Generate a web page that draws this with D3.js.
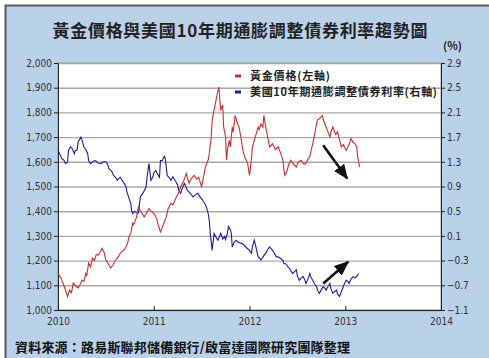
<!DOCTYPE html>
<html>
<head>
<meta charset="utf-8">
<script src="https://cdn.jsdelivr.net/npm/d3@7/dist/d3.min.js"></script>
<style>
  body { margin: 0; background: #fff; }
  svg { display: block; }
</style>
</head>
<body>
<svg id="chart" width="489" height="358"></svg>
<script>
const yearTicks = [2010, 2011, 2012, 2013, 2014]
const goldTicks = [1000, 1100, 1200, 1300, 1400, 1500, 1600, 1700, 1800, 1900, 2000]
const rateTicks = [-1.1, -0.7, -0.3, 0.1, 0.5, 0.9, 1.3, 1.7, 2.1, 2.5, 2.9]

// gold price, USD/oz (left axis) - [decimal year, value]
const goldSeries = [
  [2010.00, 1148], [2010.03, 1130], [2010.05, 1110], [2010.07, 1090], [2010.10, 1054],
  [2010.12, 1080], [2010.14, 1070], [2010.16, 1109], [2010.19, 1095], [2010.21, 1089],
  [2010.24, 1110], [2010.25, 1121], [2010.27, 1115], [2010.29, 1149], [2010.30, 1140],
  [2010.32, 1190], [2010.34, 1175], [2010.36, 1210], [2010.38, 1200], [2010.40, 1225],
  [2010.42, 1222], [2010.45, 1240], [2010.46, 1250], [2010.48, 1235], [2010.50, 1202],
  [2010.52, 1190], [2010.55, 1170], [2010.58, 1185], [2010.60, 1202], [2010.63, 1215],
  [2010.65, 1230], [2010.68, 1240], [2010.71, 1255], [2010.73, 1275], [2010.74, 1295],
  [2010.76, 1310], [2010.78, 1351], [2010.79, 1345], [2010.82, 1375], [2010.84, 1417],
  [2010.87, 1395], [2010.90, 1377], [2010.92, 1390], [2010.95, 1411], [2010.97, 1400],
  [2011.00, 1392], [2011.03, 1370], [2011.05, 1340], [2011.07, 1316], [2011.10, 1345],
  [2011.13, 1377], [2011.15, 1410], [2011.18, 1432], [2011.20, 1425], [2011.23, 1452],
  [2011.26, 1475], [2011.28, 1498], [2011.31, 1520], [2011.34, 1553], [2011.35, 1535],
  [2011.37, 1513], [2011.39, 1530], [2011.42, 1545], [2011.45, 1530], [2011.47, 1537],
  [2011.50, 1498], [2011.52, 1540], [2011.54, 1579], [2011.57, 1610], [2011.58, 1634],
  [2011.60, 1700], [2011.61, 1768], [2011.63, 1810], [2011.65, 1848], [2011.66, 1870],
  [2011.68, 1902], [2011.69, 1850], [2011.70, 1808], [2011.72, 1830], [2011.73, 1741],
  [2011.75, 1700], [2011.76, 1606], [2011.77, 1650], [2011.79, 1687], [2011.80, 1660],
  [2011.82, 1741], [2011.83, 1720], [2011.85, 1788], [2011.87, 1760], [2011.89, 1741],
  [2011.91, 1700], [2011.93, 1646], [2011.95, 1620], [2011.98, 1594], [2012.00, 1545],
  [2012.02, 1610], [2012.03, 1660], [2012.06, 1700], [2012.09, 1741], [2012.10, 1730],
  [2012.12, 1754], [2012.14, 1740], [2012.15, 1788], [2012.17, 1740], [2012.19, 1700],
  [2012.21, 1660], [2012.24, 1673], [2012.27, 1650], [2012.30, 1660], [2012.32, 1640],
  [2012.35, 1606], [2012.36, 1566], [2012.37, 1545], [2012.39, 1560], [2012.41, 1590],
  [2012.43, 1606], [2012.46, 1590], [2012.49, 1579], [2012.51, 1600], [2012.54, 1606],
  [2012.57, 1590], [2012.59, 1594], [2012.61, 1610], [2012.63, 1620], [2012.64, 1640],
  [2012.66, 1673], [2012.68, 1710], [2012.70, 1754], [2012.71, 1770], [2012.73, 1774],
  [2012.76, 1788], [2012.77, 1770], [2012.80, 1741], [2012.82, 1720], [2012.84, 1700],
  [2012.85, 1720], [2012.87, 1741], [2012.90, 1710], [2012.92, 1721], [2012.94, 1690],
  [2012.96, 1660], [2012.98, 1670], [2013.01, 1646], [2013.04, 1670], [2013.06, 1694],
  [2013.08, 1680], [2013.10, 1673], [2013.12, 1660], [2013.13, 1620], [2013.15, 1579]
]

// US 10-year TIPS yield, % (right axis) - [decimal year, value]
const rateSeries = [
  [2010.00, 1.49], [2010.02, 1.42], [2010.04, 1.35], [2010.06, 1.33], [2010.08, 1.27],
  [2010.10, 1.30], [2010.11, 1.49], [2010.13, 1.54], [2010.15, 1.51], [2010.17, 1.43],
  [2010.18, 1.48], [2010.20, 1.49], [2010.21, 1.62], [2010.24, 1.70], [2010.25, 1.66],
  [2010.27, 1.54], [2010.29, 1.50], [2010.31, 1.43], [2010.32, 1.32], [2010.34, 1.27],
  [2010.37, 1.31], [2010.39, 1.32], [2010.42, 1.28], [2010.45, 1.27], [2010.47, 1.30],
  [2010.50, 1.30], [2010.52, 1.25], [2010.53, 1.19], [2010.56, 1.15], [2010.58, 1.08],
  [2010.60, 1.05], [2010.62, 1.00], [2010.64, 1.04], [2010.65, 1.05], [2010.67, 1.00],
  [2010.69, 0.95], [2010.71, 0.90], [2010.72, 0.81], [2010.74, 0.72], [2010.76, 0.62],
  [2010.77, 0.50], [2010.78, 0.46], [2010.80, 0.50], [2010.82, 0.47], [2010.84, 0.47],
  [2010.86, 0.73], [2010.89, 0.80], [2010.92, 0.89], [2010.93, 1.05], [2010.95, 1.27],
  [2010.97, 1.00], [2010.99, 1.05], [2011.00, 1.12], [2011.02, 1.16], [2011.04, 1.10],
  [2011.06, 1.05], [2011.07, 1.32], [2011.09, 1.32], [2011.11, 1.39], [2011.12, 1.36],
  [2011.14, 1.08], [2011.16, 1.05], [2011.18, 1.00], [2011.20, 1.06], [2011.21, 1.03],
  [2011.23, 0.98], [2011.25, 0.92], [2011.26, 0.85], [2011.28, 0.79], [2011.30, 0.88],
  [2011.32, 0.95], [2011.34, 0.88], [2011.35, 0.84], [2011.37, 0.81], [2011.39, 0.77],
  [2011.41, 0.73], [2011.43, 0.76], [2011.46, 0.79], [2011.48, 0.74], [2011.51, 0.68],
  [2011.53, 0.63], [2011.55, 0.57], [2011.57, 0.45], [2011.58, 0.35], [2011.59, 0.15],
  [2011.61, -0.13], [2011.62, 0.00], [2011.63, 0.14], [2011.65, 0.08], [2011.67, 0.03],
  [2011.69, 0.10], [2011.70, 0.14], [2011.72, 0.05], [2011.74, 0.09], [2011.75, 0.04],
  [2011.77, 0.15], [2011.78, 0.25], [2011.80, 0.20], [2011.81, 0.14], [2011.82, -0.08],
  [2011.84, 0.00], [2011.86, 0.03], [2011.88, 0.00], [2011.91, -0.02], [2011.94, -0.04],
  [2011.96, -0.08], [2011.99, -0.12], [2012.02, -0.18], [2012.03, -0.08], [2012.05, 0.03],
  [2012.07, -0.10], [2012.09, -0.24], [2012.10, -0.25], [2012.12, -0.29], [2012.15, -0.22],
  [2012.17, -0.18], [2012.19, -0.12], [2012.21, -0.08], [2012.22, -0.10], [2012.24, -0.13],
  [2012.26, -0.18], [2012.28, -0.24], [2012.30, -0.24], [2012.33, -0.27], [2012.35, -0.30],
  [2012.36, -0.35], [2012.38, -0.35], [2012.40, -0.40], [2012.42, -0.43], [2012.43, -0.46],
  [2012.45, -0.51], [2012.47, -0.48], [2012.49, -0.45], [2012.50, -0.55], [2012.52, -0.62],
  [2012.54, -0.58], [2012.56, -0.56], [2012.58, -0.62], [2012.59, -0.67], [2012.61, -0.60],
  [2012.63, -0.51], [2012.64, -0.56], [2012.66, -0.62], [2012.68, -0.68], [2012.70, -0.72],
  [2012.71, -0.78], [2012.73, -0.83], [2012.75, -0.77], [2012.77, -0.72], [2012.79, -0.75],
  [2012.80, -0.78], [2012.82, -0.72], [2012.84, -0.67], [2012.85, -0.75], [2012.87, -0.83],
  [2012.89, -0.80], [2012.91, -0.78], [2012.92, -0.84], [2012.94, -0.88], [2012.96, -0.80],
  [2012.98, -0.72], [2012.99, -0.68], [2013.01, -0.62], [2013.03, -0.64], [2013.04, -0.67],
  [2013.06, -0.60], [2013.08, -0.56], [2013.10, -0.58], [2013.12, -0.56], [2013.14, -0.51]
]

// trend arrows drawn on the chart: [year, value] start and tip
const goldArrow = [[2012.77, 1667], [2013.02, 1532]]
const rateArrow = [[2012.77, -0.67], [2013.03, -0.32]]

const legendLabels = ['黃金價格(左軸)', '美國10年期通膨調整債券利率(右軸)']
const legendWidths = [80, 187]
const seriesColours = ['#d42a2e', '#1c1c9c']

const width = 489
const height = 358
const margin = { top: 63, right: 48, bottom: 48, left: 58 }
const cjk = '"Noto Sans CJK TC", "Noto Sans CJK SC", sans-serif'
const num = '"DejaVu Sans Condensed", "DejaVu Sans", sans-serif'

const svg = d3.select('#chart')

// panel background and frame
svg.append('rect')
  .attr('x', 5).attr('y', 5)
  .attr('width', width - 5).attr('height', height - 5)
  .attr('fill', '#bad1ea')
svg.append('path')
  .attr('d', `M5.5,${height}V5.5H${width}`)
  .attr('fill', 'none')
  .attr('stroke', '#5a5a5a')
  .attr('stroke-width', 2)

const x = d3.scaleLinear()
  .domain([2010, 2014])
  .range([margin.left, width - margin.right])

const yGold = d3.scaleLinear()
  .domain([1000, 2000])
  .range([height - margin.bottom, margin.top])

const yRate = d3.scaleLinear()
  .domain([-1.1, 2.9])
  .range([height - margin.bottom, margin.top])

svg.append('rect')
  .attr('x', x(2010)).attr('y', yGold(2000))
  .attr('width', x(2014) - x(2010))
  .attr('height', yGold(1000) - yGold(2000))
  .attr('fill', '#fff')
  .attr('stroke', '#9a9a9a')

// gridlines
svg.append('g')
  .selectAll('line')
  .data(goldTicks)
  .enter().append('line')
  .attr('x1', x(2010)).attr('x2', x(2014))
  .attr('y1', d => yGold(d) + 0.5).attr('y2', d => yGold(d) + 0.5)
  .attr('stroke', '#a8a8a8')
  .attr('stroke-width', 1.4)

const styleAxis = g => {
  g.select('.domain').attr('stroke', '#222')
  g.selectAll('.tick line').attr('stroke', '#222')
  g.selectAll('.tick text')
    .attr('fill', '#333')
    .attr('font-family', num)
    .attr('font-size', 10)
}

svg.append('g')
  .attr('transform', 'translate(' + x(2010) + ',0)')
  .call(d3.axisLeft(yGold).tickValues(goldTicks).tickSize(4).tickPadding(2).tickFormat(d3.format(',')))
  .call(styleAxis)

svg.append('g')
  .attr('transform', 'translate(' + x(2014) + ',0)')
  .call(d3.axisRight(yRate).tickValues(rateTicks).tickSize(4).tickPadding(2).tickFormat(d3.format('.1f')))
  .call(styleAxis)

const xAxis = svg.append('g')
  .attr('transform', 'translate(0,' + yGold(1000) + ')')
  .call(d3.axisBottom(x).tickValues(yearTicks).tickSize(-4).tickPadding(9).tickFormat(d3.format('d')))
  .call(styleAxis)
xAxis.selectAll('.tick text').attr('dy', '0.6em')

// series
const goldLine = d3.line()
  .x(d => x(d[0]))
  .y(d => yGold(d[1]))
const rateLine = d3.line()
  .x(d => x(d[0]))
  .y(d => yRate(d[1]))

svg.append('path')
  .datum(rateSeries)
  .attr('d', rateLine)
  .attr('fill', 'none')
  .attr('stroke', seriesColours[1])
  .attr('stroke-width', 1.1)

svg.append('path')
  .datum(goldSeries)
  .attr('d', goldLine)
  .attr('fill', 'none')
  .attr('stroke', seriesColours[0])
  .attr('stroke-width', 1.1)

// arrows
svg.append('defs').append('marker')
  .attr('id', 'head')
  .attr('viewBox', '0 0 12 10')
  .attr('refX', 11).attr('refY', 5)
  .attr('markerUnits', 'userSpaceOnUse')
  .attr('markerWidth', 15).attr('markerHeight', 13)
  .attr('orient', 'auto')
  .append('path')
  .attr('d', 'M0,0L12,5L0,10Z')
  .attr('fill', '#111')

svg.append('line')
  .attr('x1', x(goldArrow[0][0])).attr('y1', yGold(goldArrow[0][1]))
  .attr('x2', x(goldArrow[1][0])).attr('y2', yGold(goldArrow[1][1]))
  .attr('stroke', '#111').attr('stroke-width', 2.6)
  .attr('marker-end', 'url(#head)')

svg.append('line')
  .attr('x1', x(rateArrow[0][0])).attr('y1', yRate(rateArrow[0][1]))
  .attr('x2', x(rateArrow[1][0])).attr('y2', yRate(rateArrow[1][1]))
  .attr('stroke', '#111').attr('stroke-width', 2.6)
  .attr('marker-end', 'url(#head)')

// legend
const legend = svg.append('g')
  .attr('font-family', cjk)
  .selectAll('g')
  .data(legendLabels)
  .enter().append('g')
  .attr('transform', (d, i) => 'translate(235,' + (76 + i * 16) + ')')
legend.append('rect')
  .attr('x', 0).attr('y', -1.5)
  .attr('width', 6).attr('height', 3)
  .attr('fill', (d, i) => seriesColours[i])
legend.append('text')
  .text(d => d)
  .attr('x', 15)
  .attr('y', 4)
  .attr('font-size', 11)
  .attr('font-weight', 700)
  .attr('fill', '#222')
  .attr('textLength', (d, i) => legendWidths[i])
  .attr('lengthAdjust', 'spacing')

// titles
svg.append('text')
  .text('黃金價格與美國10年期通膨調整債券利率趨勢圖')
  .attr('x', 240)
  .attr('y', 37)
  .attr('text-anchor', 'middle')
  .attr('font-family', cjk)
  .attr('font-size', 17)
  .attr('font-weight', 700)
  .attr('fill', '#222')
  .attr('textLength', 375)
  .attr('lengthAdjust', 'spacing')

svg.append('text')
  .text('(%)')
  .attr('x', 443)
  .attr('y', 50)
  .attr('font-family', cjk)
  .attr('font-size', 11)
  .attr('font-weight', 700)
  .attr('fill', '#222')

svg.append('text')
  .text('資料來源：路易斯聯邦儲備銀行/啟富達國際研究團隊整理')
  .attr('x', 15)
  .attr('y', 352)
  .attr('font-family', cjk)
  .attr('font-size', 13)
  .attr('font-weight', 700)
  .attr('fill', '#111')
  .attr('textLength', 335)
  .attr('lengthAdjust', 'spacing')
</script>
</body>
</html>
